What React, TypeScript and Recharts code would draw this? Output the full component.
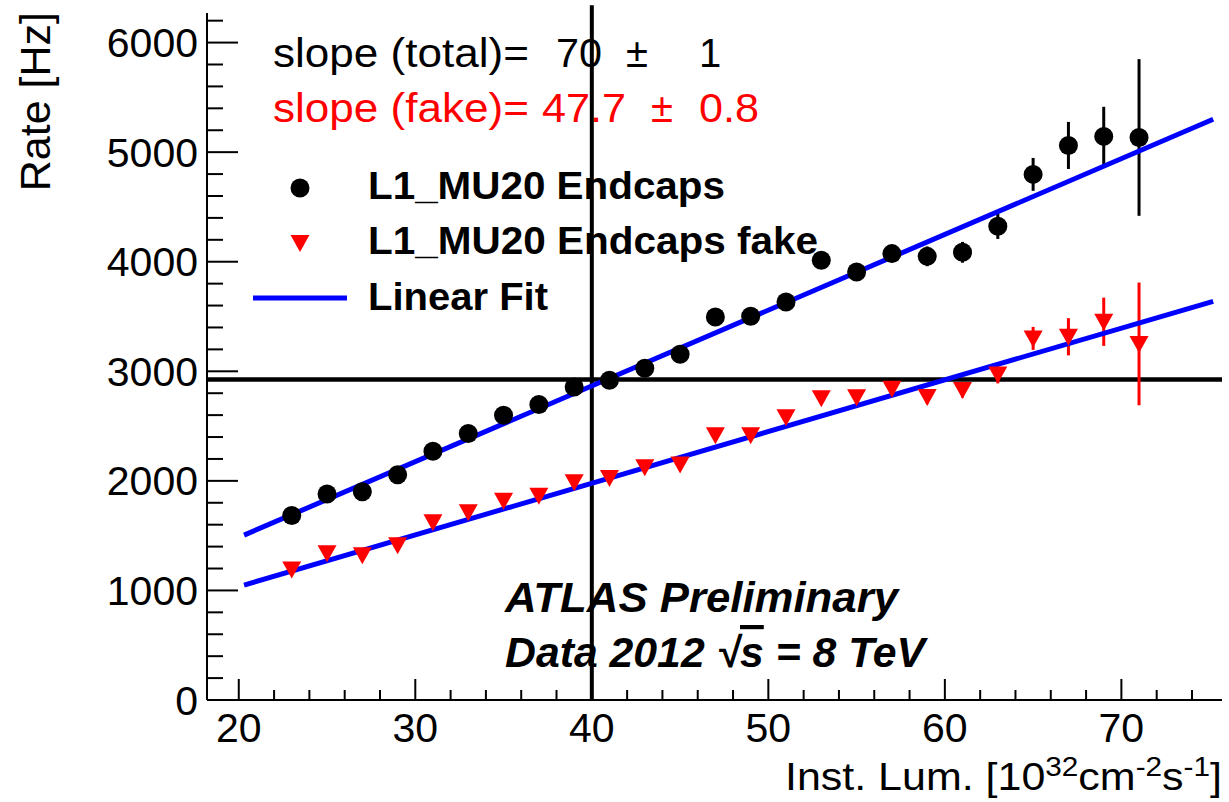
import React from 'react';
import {
  ComposedChart, Scatter, XAxis, YAxis, ErrorBar, ReferenceLine, Customized,
} from 'recharts';

// ---- data ----
const lumi = [23, 25, 27, 29, 31, 33, 35, 37, 39, 41, 43, 45, 47, 49, 51, 53, 55, 57, 59, 61, 63, 65, 67, 69, 71];
const rateTotal = [1684, 1880, 1900, 2055, 2271, 2432, 2599, 2697, 2857, 2918, 3028, 3155, 3496, 3502, 3632, 4013, 3906, 4074, 4049, 4086, 4323, 4797, 5061, 5144, 5134];
const errTotal = [20, 20, 22, 22, 25, 25, 28, 30, 32, 35, 38, 42, 45, 48, 55, 60, 65, 80, 90, 95, 115, 150, 215, 270, 715];
const rateFake = [1190, 1340, 1322, 1413, 1623, 1714, 1818, 1863, 1988, 2025, 2125, 2150, 2417, 2417, 2581, 2754, 2763, 2840, 2765, 2830, 2970, 3300, 3315, 3452, 3250];
const errFake = [15, 15, 16, 16, 18, 20, 22, 24, 26, 28, 30, 32, 35, 38, 42, 46, 50, 55, 60, 70, 80, 105, 170, 220, 560];

const fitX = [20.3, 75.2];
const fitTotal = [1505, 5300];
const fitFake = [1049, 3639];

const refLumi = 40;
const refRate = 2925;

const xTicks = [20, 22, 24, 26, 28, 30, 32, 34, 36, 38, 40, 42, 44, 46, 48, 50, 52, 54, 56, 58, 60, 62, 64, 66, 68, 70, 72, 74];
const xLabelTicks = [20, 30, 40, 50, 60, 70];
const yTicks = [0, 200, 400, 600, 800, 1000, 1200, 1400, 1600, 1800, 2000, 2200, 2400, 2600, 2800, 3000, 3200, 3400, 3600, 3800, 4000, 4200, 4400, 4600, 4800, 5000, 5200, 5400, 5600, 5800, 6000, 6200];
const yLabelTicks = [0, 1000, 2000, 3000, 4000, 5000, 6000];

const seriesNames = ['L1_MU20 Endcaps', 'L1_MU20 Endcaps fake', 'Linear Fit'];

const totalData = lumi.map((x, i) => ({ x, y: rateTotal[i], err: errTotal[i] }));
const fakeData = lumi.map((x, i) => ({ x, y: rateFake[i], err: errFake[i] }));

const FONT = '"Liberation Sans", Arial, Helvetica, sans-serif';
const ADJ = 'spacingAndGlyphs';

const Circle = (p: any) => <circle cx={p.cx} cy={p.cy} r={9.5} fill="#000" />;
const TriDown = (p: any) => {
  const { cx, cy } = p;
  return <path d={`M${cx - 9.5},${cy - 8} L${cx + 9.5},${cy - 8} L${cx},${cy + 9} Z`} fill="#ff0000" />;
};

const LeftTick = (p: any) => {
  const { x, y, payload } = p;
  const major = yLabelTicks.includes(payload.value);
  return (
    <g>
      <line x1={x} x2={x + (major ? 31 : 16)} y1={y} y2={y} stroke="#000" strokeWidth={2} />
      {major && (
        <text x={x - 9} y={y + 14.5} textAnchor="end" fontSize={41} fontFamily={FONT} fill="#000">{payload.value}</text>
      )}
    </g>
  );
};
const RightTick = (p: any) => {
  const { x, y, payload } = p;
  const major = yLabelTicks.includes(payload.value);
  return <line x1={x} x2={x - (major ? 30 : 16)} y1={y} y2={y} stroke="#000" strokeWidth={2} />;
};
const BottomTick = (p: any) => {
  const { x, y, payload } = p;
  const major = xLabelTicks.includes(payload.value);
  return (
    <g>
      <line x1={x} x2={x} y1={y} y2={y - (major ? 21 : 10)} stroke="#000" strokeWidth={2} />
      {major && (
        <text x={x} y={y + 42} textAnchor="middle" fontSize={41} fontFamily={FONT} fill="#000">{payload.value}</text>
      )}
    </g>
  );
};
const TopTick = (p: any) => {
  const { x, y, payload } = p;
  const major = xLabelTicks.includes(payload.value);
  return <line x1={x} x2={x} y1={y} y2={y + (major ? 21 : 10)} stroke="#000" strokeWidth={2} />;
};

const Overlay = () => (
  <g fontFamily={FONT}>
    {/* axis titles */}
    <text transform="translate(50,12) rotate(-90)" textAnchor="end" fontSize={43} fill="#000">Rate [Hz]</text>
    <text x={785} y={790} fontSize={39} fill="#000" textLength={437} lengthAdjust={ADJ}>
      Inst. Lum. [10<tspan dy={-14} fontSize={27}>32</tspan><tspan dy={14}>cm</tspan><tspan dy={-14} fontSize={27}>-2</tspan><tspan dy={14}>s</tspan><tspan dy={-14} fontSize={27}>-1</tspan><tspan dy={14}>]</tspan>
    </text>
    {/* slope annotations */}
    <g fontSize={40}>
      <text x={273} y={67} fill="#000" textLength={256} lengthAdjust={ADJ}>slope (total)=</text>
      <text x={556} y={67} fill="#000" textLength={46} lengthAdjust={ADJ}>70</text>
      <text x={626} y={67} fill="#000">±</text>
      <text x={699} y={67} fill="#000">1</text>
      <text x={273} y={122} fill="#ff0000" textLength={256} lengthAdjust={ADJ}>slope (fake)=</text>
      <text x={542} y={122} fill="#ff0000" textLength={84} lengthAdjust={ADJ}>47.7</text>
      <text x={651} y={122} fill="#ff0000">±</text>
      <text x={699} y={122} fill="#ff0000" textLength={60} lengthAdjust={ADJ}>0.8</text>
    </g>
    {/* legend */}
    <g fontSize={38} fontWeight="bold" fill="#000">
      <circle cx={300} cy={188} r={9.5} fill="#000" />
      <text x={368} y={199} textLength={357} lengthAdjust={ADJ}>{seriesNames[0]}</text>
      <path d="M290.5,235 L309.5,235 L300,252 Z" fill="#ff0000" />
      <text x={368} y={254} textLength={450} lengthAdjust={ADJ}>{seriesNames[1]}</text>
      <line x1={253} x2={347} y1={298} y2={298} stroke="#0000ff" strokeWidth={5} />
      <text x={368} y={310} textLength={180} lengthAdjust={ADJ}>{seriesNames[2]}</text>
    </g>
    {/* ATLAS label */}
    <g fontSize={42} fontWeight="bold" fontStyle="italic" fill="#000">
      <text x={505} y={612} textLength={393} lengthAdjust={ADJ}>ATLAS Preliminary</text>
      <text x={505} y={667} textLength={420} lengthAdjust={ADJ}>Data 2012 √<tspan style={{ textDecoration: 'overline' }}>s</tspan> = 8 TeV</text>
    </g>
  </g>
);

export default function App() {
  return (
    <div style={{ position: 'absolute', left: 0, top: 0, width: 1229, height: 802, background: '#fff' }}>
      <ComposedChart width={1229} height={802} margin={{ top: 13, right: 7, bottom: 0, left: 0 }}>
        <XAxis xAxisId="b" type="number" dataKey="x" domain={[18.2, 75.7]} allowDataOverflow ticks={xTicks} interval={0}
          orientation="bottom" height={102} tickSize={0} tickMargin={0} tick={<BottomTick />} tickLine={false}
          axisLine={{ stroke: '#000', strokeWidth: 2 }} />
        <XAxis xAxisId="t" type="number" dataKey="x" domain={[18.2, 75.7]} allowDataOverflow ticks={xTicks} interval={0}
          orientation="top" height={0} tickSize={0} tickMargin={0} tick={<TopTick />} tickLine={false}
          axisLine={{ stroke: '#000', strokeWidth: 2 }} />
        <YAxis yAxisId="l" type="number" dataKey="y" domain={[0, 6270]} allowDataOverflow ticks={yTicks} interval={0}
          orientation="left" width={207} tickSize={0} tickMargin={0} tick={<LeftTick />} tickLine={false}
          axisLine={{ stroke: '#000', strokeWidth: 2 }} />
        <YAxis yAxisId="r" type="number" dataKey="y" domain={[0, 6270]} allowDataOverflow ticks={yTicks} interval={0}
          orientation="right" width={0} tickSize={0} tickMargin={0} tick={<RightTick />} tickLine={false}
          axisLine={{ stroke: '#000', strokeWidth: 2 }} />

        <ReferenceLine xAxisId="b" yAxisId="l" y={refRate} stroke="#000" strokeWidth={4.5} ifOverflow="visible" />
        <ReferenceLine xAxisId="b" yAxisId="l" segment={[{ x: refLumi, y: 0 }, { x: refLumi, y: 6340 }]} stroke="#000" strokeWidth={4} ifOverflow="visible" />

        <Scatter xAxisId="b" yAxisId="l" name={seriesNames[0]} data={totalData} dataKey="y" shape={<Circle />} isAnimationActive={false}>
          <ErrorBar dataKey="err" direction="y" width={0} stroke="#000" strokeWidth={3} />
        </Scatter>
        <Scatter xAxisId="b" yAxisId="l" name={seriesNames[1]} data={fakeData} dataKey="y" shape={<TriDown />} isAnimationActive={false}>
          <ErrorBar dataKey="err" direction="y" width={0} stroke="#ff0000" strokeWidth={3} />
        </Scatter>

        <ReferenceLine xAxisId="b" yAxisId="l" segment={[{ x: fitX[0], y: fitTotal[0] }, { x: fitX[1], y: fitTotal[1] }]} stroke="#0000ff" strokeWidth={5} ifOverflow="visible" />
        <ReferenceLine xAxisId="b" yAxisId="l" segment={[{ x: fitX[0], y: fitFake[0] }, { x: fitX[1], y: fitFake[1] }]} stroke="#0000ff" strokeWidth={5} ifOverflow="visible" />

        <Customized component={<Overlay />} />
      </ComposedChart>
    </div>
  );
}
